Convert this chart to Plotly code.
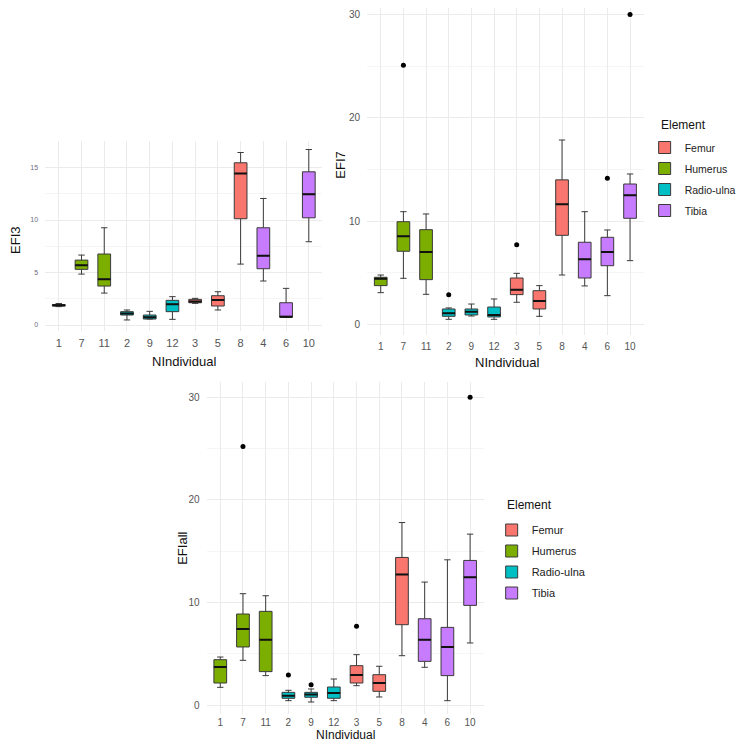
import plotly.graph_objects as go

# ==========================================================
# Data
# ==========================================================

individuals = ["1", "7", "11", "2", "9", "12", "3", "5", "8", "4", "6", "10"]
element_of = ["Humerus", "Humerus", "Humerus",
              "Radio-ulna", "Radio-ulna", "Radio-ulna",
              "Femur", "Femur", "Femur",
              "Tibia", "Tibia", "Tibia"]
elements = ["Femur", "Humerus", "Radio-ulna", "Tibia"]
element_colors = ["#F8766D", "#7CAE00", "#00BFC4", "#C77CFF"]

# EFI3
efi3_lo = [1.75, 4.85, 3.04, 0.48, 0.57, 0.54, 2.06, 1.43, 5.80, 4.19, 0.73, 7.93]
efi3_q1 = [1.80, 5.30, 3.71, 0.95, 0.57, 1.27, 2.12, 1.81, 10.12, 5.36, 0.73, 10.21]
efi3_med = [1.88, 5.68, 4.35, 1.10, 0.73, 1.97, 2.25, 2.38, 14.43, 6.60, 0.79, 12.46]
efi3_q3 = [1.95, 6.18, 6.76, 1.27, 0.95, 2.35, 2.44, 2.79, 15.45, 9.26, 2.12, 14.59]
efi3_hi = [2.05, 6.66, 9.26, 1.43, 1.30, 2.70, 2.54, 3.17, 16.43, 12.05, 3.49, 16.71]
efi3_out_x = []
efi3_out_y = []

# EFI7
efi7_lo = [3.08, 4.47, 2.92, 0.50, 0.82, 0.50, 2.15, 0.79, 4.79, 3.73, 2.79, 6.18]
efi7_q1 = [3.76, 7.09, 4.34, 0.79, 0.92, 0.73, 2.89, 1.50, 8.63, 4.50, 5.69, 10.28]
efi7_med = [4.43, 8.54, 7.02, 1.08, 1.24, 0.92, 3.37, 2.27, 11.63, 6.31, 7.02, 12.50]
efi7_q3 = [4.57, 9.95, 9.18, 1.50, 1.50, 1.69, 4.50, 3.27, 14.00, 7.96, 8.44, 13.60]
efi7_hi = [4.79, 10.92, 10.70, 1.60, 1.98, 2.47, 4.95, 3.76, 17.86, 10.92, 9.15, 14.57]
efi7_out_x = ["7", "2", "3", "6", "10"]
efi7_out_y = [25.1, 2.89, 7.73, 14.15, 30.0]

# EFIall
efiall_lo = [1.75, 4.38, 2.89, 0.45, 0.32, 0.45, 1.91, 0.81, 4.83, 3.70, 0.45, 6.07]
efiall_q1 = [2.17, 5.68, 3.28, 0.68, 0.78, 0.68, 2.17, 1.36, 7.85, 4.28, 2.89, 9.73]
efiall_med = [3.73, 7.43, 6.39, 0.94, 1.04, 1.20, 2.95, 2.17, 12.75, 6.39, 5.68, 12.46]
efiall_q3 = [4.44, 8.89, 9.15, 1.26, 1.26, 1.78, 3.86, 2.98, 14.40, 8.43, 7.59, 14.11]
efiall_hi = [4.70, 10.87, 10.67, 1.46, 1.59, 2.56, 4.93, 3.80, 17.80, 12.00, 14.17, 16.67]
efiall_out_x = ["7", "2", "9", "3", "10"]
efiall_out_y = [25.2, 2.95, 2.01, 7.69, 30.0]

FONT = "Liberation Sans, Arial, sans-serif"

# the page body keeps an 8px margin; keep the figure inside the window
OFF = 8
W, H = 750 - 2 * OFF - 1, 751 - 2 * OFF - 1


def px_x(x):
    return (x - OFF) / W


def px_y(y):
    return min(1.0, 1 - (y - OFF) / H)


fig = go.Figure()


# ==========================================================
# One boxplot panel
# ==========================================================

def add_panel(xa, ya, lo, q1, med, q3, hi, out_x, out_y, legend=None):
    for el, col in zip(elements, element_colors):
        idx = [i for i, e in enumerate(element_of) if e == el]
        fig.add_trace(go.Box(
            x=[individuals[i] for i in idx],
            lowerfence=[lo[i] for i in idx],
            q1=[q1[i] for i in idx],
            median=[med[i] for i in idx],
            q3=[q3[i] for i in idx],
            upperfence=[hi[i] for i in idx],
            name=el,
            fillcolor=col,
            line=dict(color="#3a3a3a", width=1),
            xaxis=xa, yaxis=ya,
            boxpoints=False,
            hoverinfo="skip",
            showlegend=legend is not None,
            legend=legend or "legend",
            legendgroup=f"{xa}_{el}",
        ))
        # thick black median line on top
        fig.add_trace(go.Box(
            x=[individuals[i] for i in idx],
            lowerfence=[med[i] for i in idx],
            q1=[med[i] for i in idx],
            median=[med[i] for i in idx],
            q3=[med[i] for i in idx],
            upperfence=[med[i] for i in idx],
            fillcolor="rgba(0,0,0,0)",
            line=dict(color="#111111", width=2),
            xaxis=xa, yaxis=ya,
            boxpoints=False,
            hoverinfo="skip",
            showlegend=False,
        ))
    if out_x:
        fig.add_trace(go.Scatter(
            x=out_x, y=out_y,
            mode="markers",
            marker=dict(color="black", size=5),
            xaxis=xa, yaxis=ya,
            hoverinfo="skip",
            showlegend=False,
        ))


add_panel("x", "y", efi3_lo, efi3_q1, efi3_med, efi3_q3, efi3_hi,
          efi3_out_x, efi3_out_y)
add_panel("x2", "y2", efi7_lo, efi7_q1, efi7_med, efi7_q3, efi7_hi,
          efi7_out_x, efi7_out_y, legend="legend")
add_panel("x3", "y3", efiall_lo, efiall_q1, efiall_med, efiall_q3, efiall_hi,
          efiall_out_x, efiall_out_y, legend="legend2")


def x_axis(domain, anchor, size=10, standoff=4):
    return dict(
        domain=domain, anchor=anchor,
        type="category",
        categoryorder="array", categoryarray=individuals,
        range=[-0.6, 11.6],
        showgrid=True, gridcolor="#ebebeb", gridwidth=1,
        zeroline=False, showline=False,
        ticks="", ticklabelstandoff=standoff,
        tickfont=dict(family=FONT, size=size, color="#555555"),
    )


def y_axis(domain, anchor, rng, dtick, size=10, color="#555555"):
    return dict(
        domain=domain, anchor=anchor,
        range=rng, dtick=dtick, tick0=0,
        showgrid=True, gridcolor="#ebebeb", gridwidth=1,
        minor=dict(showgrid=True, dtick=dtick / 2, gridcolor="#f5f5f5", gridwidth=1),
        zeroline=False, showline=False,
        ticks="", ticklabelstandoff=6,
        tickfont=dict(family=FONT, size=size, color=color),
    )


def legend_box(x, y, size=11):
    return dict(
        x=px_x(x), y=px_y(y), xanchor="left", yanchor="top",
        font=dict(family=FONT, size=size, color="#222222"),
        bgcolor="rgba(0,0,0,0)",
        tracegroupgap=2,
    )


fig.update_layout(
    width=W, height=H,
    paper_bgcolor="white",
    plot_bgcolor="white",
    margin=dict(l=0, r=0, t=0, b=0),
    boxmode="overlay",
    boxgap=0.2,
    font=dict(family=FONT, color="#222222"),
    xaxis=x_axis([px_x(45.4), px_x(324.6)], "y", size=11),
    yaxis=y_axis([px_y(331.3), px_y(141.25)], "x", [-0.6, 17.5], 5,
                 size=7, color="#6b6b80"),
    xaxis2=x_axis([px_x(369.6), px_x(648)], "y2"),
    yaxis2=y_axis([px_y(334.5), 1.0], "x2", [-0.97, (324.5 - OFF) / 10.33], 10),
    xaxis3=x_axis([px_x(208), px_x(487)], "y3", standoff=1),
    yaxis3=y_axis([px_y(713.5), px_y(382.1)], "x3", [-0.8, 31.48], 10),
    legend=legend_box(649, 133, size=10.5),
    legend2=legend_box(495, 515.5),
)

# axis titles and legend titles
titles = [
    ("EFI3", 15, 240, -90, "center", 13), ("NIndividual", 185, 361, 0, "center", 13),
    ("EFI7", 342, 165, -90, "center", 13), ("NIndividual", 510, 362, 0, "center", 13),
    ("EFIall", 183, 548, -90, "center", 13), ("NIndividual", 348, 735, 0, "center", 12),
    ("Element", 663, 125, 0, "left", 12), ("Element", 508, 505, 0, "left", 12),
]
for text, x, y, ang, anchor, size in titles:
    fig.add_annotation(
        text=text, x=px_x(x), y=px_y(y), xref="paper", yref="paper",
        showarrow=False, textangle=ang,
        font=dict(family=FONT, size=size, color="#111111"),
        xanchor=anchor, yanchor="middle",
    )

fig.write_html("out.html")
